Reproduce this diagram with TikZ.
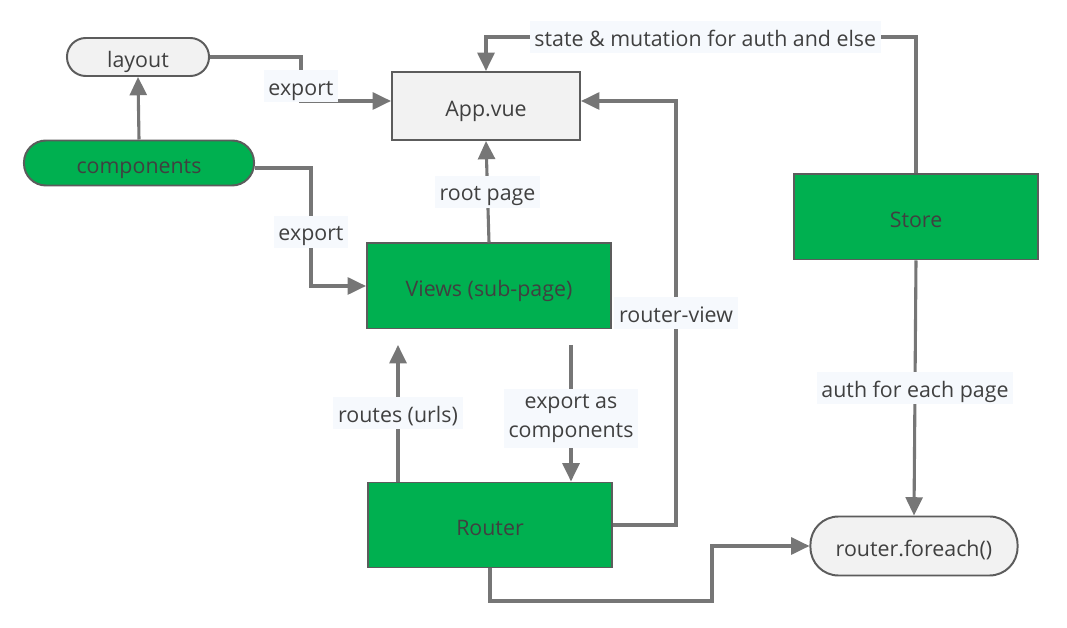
\documentclass[tikz,border=0pt]{standalone}
\usepackage{fontspec}
\setmainfont{Open Sans}
\usetikzlibrary{arrows.meta,calc}
\definecolor{boxgreen}{RGB}{0,176,80}
\definecolor{boxgray}{RGB}{242,242,242}
\definecolor{edgegray}{RGB}{118,118,118}
\definecolor{framegray}{RGB}{92,92,92}
\definecolor{labelbg}{RGB}{246,249,253}
\definecolor{textgray}{RGB}{64,64,64}

\begin{document}
\begin{tikzpicture}[x=0.025cm, y=-0.025cm,
    txt/.style={text=textgray, font=\fontsize{15.2}{21}\selectfont},
    box/.style={txt, draw=framegray, line width=1.4pt, inner sep=0pt, text height=16.5pt, text depth=1.5pt},
    greenbox/.style={box, fill=boxgreen, minimum width=6.1cm, minimum height=2.125cm},
    graybox/.style={box, fill=boxgray},
    lbltwo/.style={txt, fill=labelbg, inner sep=3.5pt, align=center},
    lbl/.style={lbltwo, text height=14.5pt, text depth=1.5pt},
    conn/.style={draw=edgegray, line width=2.2pt, -{Triangle[length=13pt, width=12pt]}}]
    \useasboundingbox (0,0) rectangle (1067,628);

    % boxes
    \node[graybox, minimum width=3.55cm, minimum height=0.95cm, rounded corners=0.47cm] (layout) at (138,57) {layout};
    \node[greenbox, minimum width=5.75cm, minimum height=1.125cm, rounded corners=0.55cm] (comp) at (139,163) {components};
    \node[graybox, minimum width=4.7cm, minimum height=1.7cm] (app) at (486,106) {App.vue};
    \node[greenbox] (views) at (489,286) {Views (sub-page)};
    \node[greenbox] (router) at (490,525) {Router};
    \node[greenbox] (store) at (916,217) {Store};
    \node[graybox, minimum width=5.175cm, minimum height=1.475cm, rounded corners=0.7cm] (foreach) at (914,546) {router.foreach()};

    % free ends between views and router
    \coordinate (urlend) at (398,345);
    \coordinate (expstart) at (571,345);

    % connectors
    \draw[conn] (layout.east) -- ++(91,0) |- node[lbl, pos=0.33] {export} ($(app.west)+(0,-5)$);
    \draw[conn] (comp.north) -- (layout.south);
    \draw[conn] ($(comp.east)+(0,5)$) -- ++(56,0) |- node[lbl, pos=0.27] {export} (views.west);
    \draw[conn] (views.north) -- node[lbl] {root page} (app.south);
    \draw[conn] (store.north) |- node[lbl, pos=0.745] {state \& mutation for auth and else} ($(app.north)+(0,-34)$) -- (app.north);
    \draw[conn] (router.east) -- ++(63,0) |- node[lbl, pos=0.25] {router-view} ($(app.east)+(0,-5)$);
    \draw[conn] (router.north -| urlend) -- node[lbl] {routes (urls)} (urlend);
    \draw[conn] (expstart) -- node[lbltwo, pos=0.54] {export as\\components} (router.north -| expstart);
    \draw[conn] (store.south) -- node[lbl] {auth for each page} (foreach.north);
    \draw[conn] (router.south) |- (712,601) |- (foreach.west);
\end{tikzpicture}
\end{document}
